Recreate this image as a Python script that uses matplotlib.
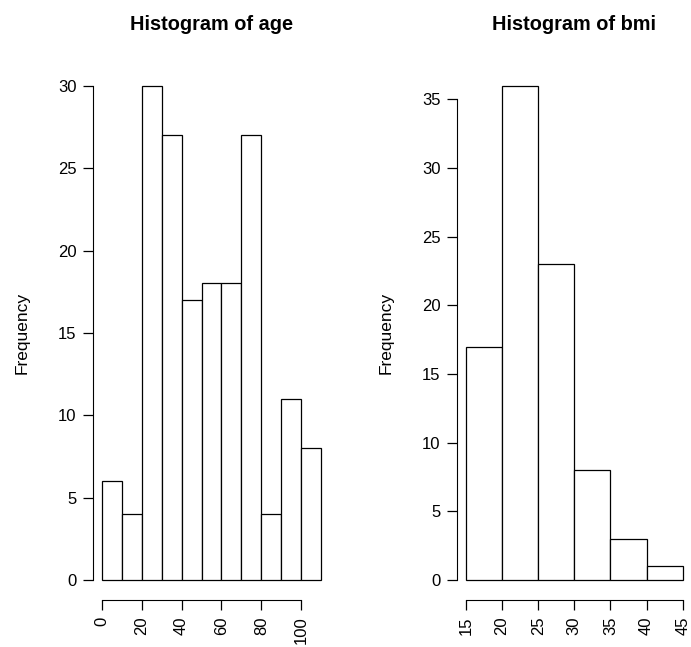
import matplotlib.pyplot as plt
import numpy as np

plt.rcParams['font.family'] = ['Liberation Sans', 'DejaVu Sans']

age_breaks = [0, 10, 20, 30, 40, 50, 60, 70, 80, 90, 100, 110]
age_counts = [6, 4, 30, 27, 17, 18, 18, 27, 4, 11, 8]
age_xticks = [0, 20, 40, 60, 80, 100]
age_yticks = [0, 5, 10, 15, 20, 25, 30]

bmi_breaks = [15, 20, 25, 30, 35, 40, 45]
bmi_counts = [17, 36, 23, 8, 3, 1]
bmi_xticks = [15, 20, 25, 30, 35, 40, 45]
bmi_yticks = [0, 5, 10, 15, 20, 25, 30, 35]

fig = plt.figure(figsize=(6.91, 6.47), dpi=100)


def r_hist(ax, breaks, counts, xticks, yticks, title):
    breaks = np.array(breaks)
    ax.bar(breaks[:-1], counts, width=np.diff(breaks), align='edge',
           color='white', edgecolor='black', linewidth=0.9)
    x0, x1 = breaks[0], breaks[-1]
    dx = (x1 - x0) * 0.04
    ax.set_xlim(x0 - dx, x1 + dx)
    ymax = max(counts)
    ax.set_ylim(-ymax * 0.04, ymax * 1.04)
    for s in ['top', 'right']:
        ax.spines[s].set_visible(False)
    ax.spines['left'].set_bounds(yticks[0], yticks[-1])
    ax.spines['bottom'].set_bounds(xticks[0], xticks[-1])
    ax.set_xticks(xticks)
    ax.set_yticks(yticks)
    ax.set_xticklabels([str(t) for t in xticks], rotation=90)
    ax.tick_params(length=7, width=0.9, labelsize=12, pad=5)
    ax.set_ylabel('Frequency', fontsize=12.5, labelpad=20)
    ax.set_title(title, fontsize=14.3, fontweight='bold', pad=26)


ax1 = fig.add_axes([0.1346, 0.073, 0.343, 0.825])
r_hist(ax1, age_breaks, age_counts, age_xticks, age_yticks, 'Histogram of age')

ax2 = fig.add_axes([0.6616, 0.073, 0.339, 0.825])
r_hist(ax2, bmi_breaks, bmi_counts, bmi_xticks, bmi_yticks, 'Histogram of bmi')

fig.savefig('out.png', dpi=100)
